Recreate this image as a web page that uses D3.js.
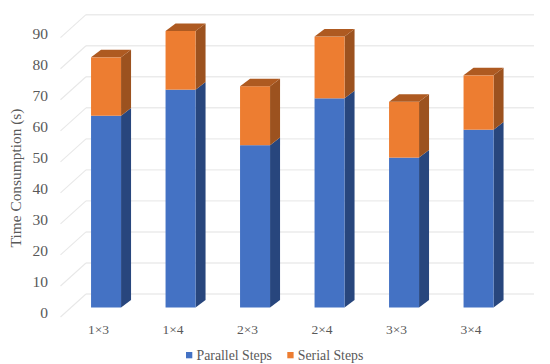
<!DOCTYPE html>
<html><head><meta charset="utf-8">
<script src="https://cdn.jsdelivr.net/npm/d3@7"></script>
<style>html,body{margin:0;padding:0;background:#fff}svg{display:block}text{font-family:"Liberation Serif",serif;fill:#595959}</style>
</head><body><svg id="c" width="550" height="364"></svg>
<script>
const categories=["1×3","1×4","2×3","2×4","3×3","3×4"];
const parallelSteps=[61.8,70.2,52.3,67.4,48.3,57.3];
const serialSteps=[18.8,18.9,19.0,19.9,18.0,17.5];
const seriesNames=["Parallel Steps","Serial Steps"];
const yTicks=[0,10,20,30,40,50,60,70,80,90];

const svg=d3.select("#c");
const y=d3.scaleLinear().domain([0,90]).range([307.5,28.2]);
const x=d3.scaleBand().domain(categories).range([68.8,515.8]).paddingInner(0.6).paddingOuter(0.3);
const bw=30, sdx=10, sdy=-7.6;
const backDy=-13.5, backX0=86, backX1=534, wallX0=60.5, wallDy=9.5;

// gridlines
const grid=svg.append("g");
yTicks.forEach(t=>{
  const yb=y(t)+backDy;
  grid.append("line").attr("x1",backX0).attr("x2",backX1).attr("y1",yb).attr("y2",yb)
    .attr("stroke","#ebebeb").attr("stroke-width",1.4);
  grid.append("line").attr("x1",wallX0).attr("x2",backX0).attr("y1",y(t)+wallDy).attr("y2",yb)
    .attr("stroke","#e8e8e8").attr("stroke-width",1.1);
  svg.append("text").attr("x",48).attr("y",y(t)+10.8).attr("text-anchor","end")
    .attr("font-size",15.5).text(t);
});

const colors=[{front:"#4472c4",side:"#28467d",top:"#2f5597"},{front:"#ed7d31",side:"#9c521f",top:"#ae5a21"}];
categories.forEach((c,i)=>{
  const bx=x(c)+x.bandwidth()/2-bw/2;
  const g=svg.append("g");
  const segs=[[0,parallelSteps[i],colors[0]],[parallelSteps[i],parallelSteps[i]+serialSteps[i],colors[1]]];
  segs.forEach(([a,b,col],k)=>{
    const ya=y(a), yb=y(b), xr=bx+bw;
    g.append("polygon").attr("fill",col.side)
      .attr("points",[[xr,ya],[xr+sdx,ya+sdy],[xr+sdx,yb+sdy],[xr,yb]].join(" "));
    g.append("rect").attr("x",bx).attr("y",yb).attr("width",bw).attr("height",ya-yb).attr("fill",col.front);
    if(k===1) g.append("polygon").attr("fill",col.top)
      .attr("points",[[bx,yb],[bx+sdx,yb+sdy],[xr+sdx,yb+sdy],[xr,yb]].join(" "));
  });
  svg.append("text").attr("x",bx+7.5).attr("y",333.8).attr("text-anchor","middle")
    .attr("font-size",13.5).text(c);
});

// axis title
svg.append("text").attr("transform","translate(21,178) rotate(-90)").attr("text-anchor","middle")
  .attr("font-size",15.4).text("Time Consumption (s)");

// legend
const lx=[186,287.3];
seriesNames.forEach((n,i)=>{
  svg.append("rect").attr("x",lx[i]).attr("y",352).attr("width",6.3).attr("height",6.3).attr("fill",colors[i].front);
  svg.append("text").attr("x",lx[i]+10.5).attr("y",359.5).attr("font-size",13.8).text(n);
});
</script></body></html>
